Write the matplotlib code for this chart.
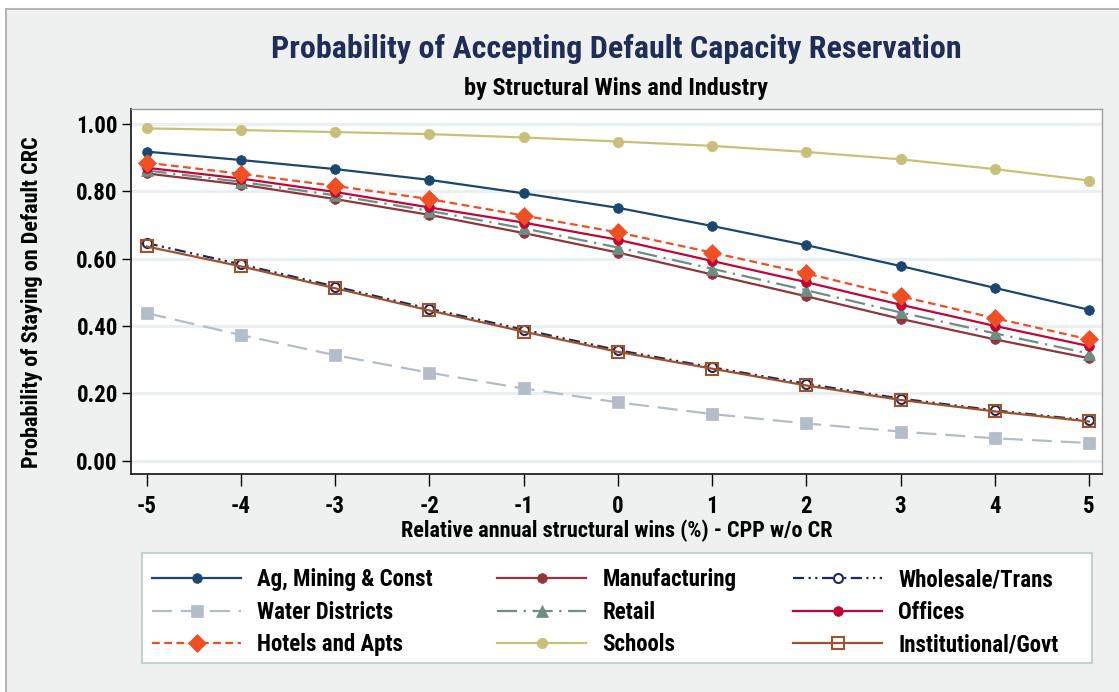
import numpy as np
import matplotlib
matplotlib.use("Agg")
import matplotlib.pyplot as plt
from matplotlib import font_manager
from matplotlib.patches import Rectangle

# font: pick a condensed family if there is one, else DejaVu Sans condensed
names = {f.name for f in font_manager.fontManager.ttflist}
fam = 'DejaVu Sans'
for cand in ['Liberation Sans Narrow', 'Roboto Condensed', 'Open Sans Condensed', 'Noto Sans Condensed']:
    if cand in names:
        fam = cand
        break
plt.rcParams['font.family'] = [fam, 'DejaVu Sans']
plt.rcParams['font.stretch'] = 'condensed'
plt.rcParams['font.weight'] = 'bold'

# data
wins = [-5, -4, -3, -2, -1, 0, 1, 2, 3, 4, 5]
ag_mining = [0.918, 0.893, 0.866, 0.834, 0.794, 0.751, 0.697, 0.640, 0.578, 0.513, 0.448]
manufacturing = [0.853, 0.820, 0.777, 0.730, 0.676, 0.618, 0.553, 0.488, 0.421, 0.360, 0.304]
wholesale = [0.646, 0.583, 0.517, 0.451, 0.389, 0.328, 0.277, 0.228, 0.184, 0.149, 0.119]
water = [0.438, 0.373, 0.313, 0.261, 0.214, 0.173, 0.138, 0.110, 0.086, 0.066, 0.052]
retail = [0.862, 0.828, 0.788, 0.742, 0.690, 0.633, 0.570, 0.506, 0.440, 0.378, 0.318]
offices = [0.870, 0.838, 0.798, 0.752, 0.707, 0.656, 0.593, 0.530, 0.463, 0.400, 0.340]
hotels = [0.885, 0.852, 0.816, 0.777, 0.728, 0.678, 0.618, 0.556, 0.488, 0.423, 0.360]
schools = [0.987, 0.982, 0.976, 0.970, 0.960, 0.948, 0.935, 0.917, 0.895, 0.866, 0.832]
institutional = [0.636, 0.577, 0.512, 0.446, 0.383, 0.323, 0.273, 0.223, 0.180, 0.146, 0.116]

y_ticks = [0.0, 0.2, 0.4, 0.6, 0.8, 1.0]

W, H = 1119, 692
fig = plt.figure(figsize=(W / 100, H / 100), dpi=100, facecolor='white')

# outer panel with border
fig.patches.append(Rectangle((6 / W, -0.1), 1.2, 1.1 - 9 / H, transform=fig.transFigure,
                             facecolor='#eff1f0', edgecolor='#b4b4b4', lw=1.5, zorder=-10))

ax = fig.add_axes([131 / W, (H - 473.5) / H, (1102 - 131) / W, (473.5 - 109) / H])
ax.set_facecolor('white')

lw = 1.6
series = [
    # label, values, color, linestyle, marker, size, face
    ('Ag, Mining & Const', ag_mining, '#1a476f', '-', 'o', 7, None),
    ('Manufacturing', manufacturing, '#90353b', '-', 'o', 7, None),
    ('Wholesale/Trans', wholesale, '#1c2b5a', (0, (5, 2, 1, 2, 1, 2)), 'o', 6.5, 'white'),
    ('Water Districts', water, '#b3bdca', (0, (9, 4)), 's', 8.5, None),
    ('Retail', retail, '#6e8e84', (0, (9, 3, 1, 3)), '^', 9, None),
    ('Offices', offices, '#c10534', '-', 'o', 7, None),
    ('Hotels and Apts', hotels, '#f04e23', (0, (3.5, 2)), 'D', 9, None),
    ('Schools', schools, '#c8bf78', '-', 'o', 7.5, None),
    ('Institutional/Govt', institutional, '#a0522d', '-', 's', 8.5, 'none'),
]

handles = {}
for label, vals, color, ls, mk, ms, face in series:
    line, = ax.plot(wins, vals, color=color, ls=ls, lw=lw, marker=mk, markersize=ms,
                    markerfacecolor=face if face else color,
                    markeredgecolor=color, markeredgewidth=1.5 if face else 0.5,
                    label=label, zorder=3)
    handles[label] = line

ax.set_xlim(-5.166, 5.138)
ax.set_ylim(-0.0386, 1.0446)
ax.set_xticks(wins)
ax.set_xticklabels([str(v) for v in wins])
ax.set_yticks(y_ticks)
ax.set_yticklabels(['%.2f' % v for v in y_ticks])
ax.grid(axis='y', color='#e9eff3', lw=2.2, zorder=0)
ax.set_axisbelow(True)

for s in ['top', 'right']:
    ax.spines[s].set_color('#9e9e9e')
    ax.spines[s].set_linewidth(1.0)
for s in ['left', 'bottom']:
    ax.spines[s].set_color('#222222')
    ax.spines[s].set_linewidth(1.3)

ax.tick_params(axis='y', length=6.5, width=1.0, pad=3, labelsize=16.5)
ax.tick_params(axis='x', length=8.5, width=1.0, pad=7, labelsize=16.5)

ax.set_ylabel('Probability of Staying on Default CRC', fontsize=16, fontweight='bold', labelpad=9)
ax.yaxis.set_label_coords(-0.091, 0.47)
ax.set_xlabel('Relative annual structural wins (%) - CPP w/o CR', fontsize=16,
              fontweight='bold', labelpad=1)

# titles
cx = (131 + 1102) / 2 / W
fig.text(cx, 1 - 49 / H, 'Probability of Accepting Default Capacity Reservation',
         ha='center', va='center', fontsize=23, fontweight='bold', color='#1e2e57')
fig.text(cx, 1 - 88 / H, 'by Structural Wins and Industry',
         ha='center', va='center', fontsize=17.5, fontweight='bold', color='black')

# legend box, then one legend per column so the columns sit where they do in the reference
fig.patches.append(Rectangle((141.7 / W, (H - 663) / H), 950 / W, 110 / H,
                             transform=fig.transFigure, facecolor='white',
                             edgecolor='#b9ccc6', lw=1.2, zorder=-5))
columns = [
    (152, ['Ag, Mining & Const', 'Water Districts', 'Hotels and Apts']),
    (497, ['Manufacturing', 'Retail', 'Schools']),
    (793, ['Wholesale/Trans', 'Offices', 'Institutional/Govt']),
]
for x0, labs in columns:
    fig.legend([handles[k] for k in labs], labs, ncol=1, loc='upper left',
               bbox_to_anchor=(x0 / W, 1 - 568 / H), frameon=False, fontsize=16.5,
               handlelength=3.9, handletextpad=0.7, labelspacing=0.42,
               borderpad=0, borderaxespad=0)

fig.savefig('out.png', dpi=100, facecolor=fig.get_facecolor())
